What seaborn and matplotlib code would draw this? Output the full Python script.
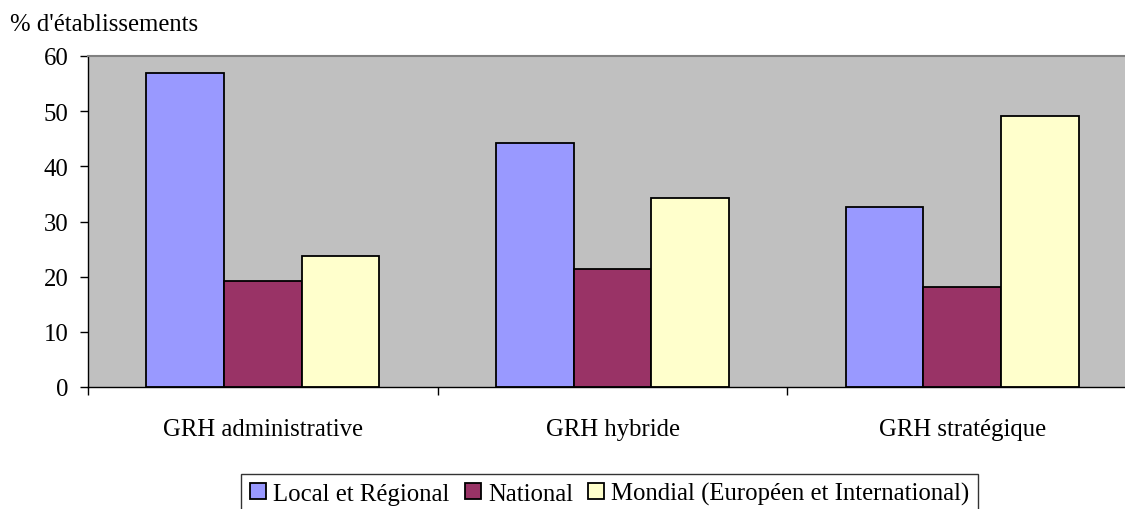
import matplotlib
matplotlib.use("Agg")
import matplotlib.pyplot as plt
import seaborn as sns
import pandas as pd
from matplotlib.ticker import FixedLocator, NullFormatter

categories = ["GRH administrative", "GRH hybride", "GRH stratégique"]
series_names = ["Local et Régional", "National", "Mondial (Européen et International)"]
local_regional = [56.9, 44.2, 32.6]
national = [19.3, 21.4, 18.1]
mondial = [23.8, 34.3, 49.1]
y_ticks = [0, 10, 20, 30, 40, 50, 60]
y_label = "% d'établissements"

colors = ["#9999FF", "#993366", "#FFFFCC"]

rows = []
for name, vals in zip(series_names, [local_regional, national, mondial]):
    for c, v in zip(categories, vals):
        rows.append({"cat": c, "serie": name, "val": v})
df = pd.DataFrame(rows)

plt.rcParams["font.family"] = ["Liberation Serif", "DejaVu Serif"]
FS = 17.8

fig = plt.figure(figsize=(11.25, 5.1), dpi=100)
ax = fig.add_axes([88 / 1125, (510 - 388) / 510, 1049 / 1125, 331 / 510])
ax.set_facecolor("#C0C0C0")

sns.barplot(data=df, x="cat", y="val", hue="serie", order=categories,
            hue_order=series_names, palette=colors, width=2 / 3,
            saturation=1, edgecolor="black", linewidth=1.3, ax=ax,
            legend=True)

ax.set_xlim(-0.5, 2.5)
ax.set_ylim(0, 60)
ax.set_yticks(y_ticks)
ax.set_yticklabels([str(t) for t in y_ticks], fontsize=FS)
ax.tick_params(axis="y", direction="out", length=6, width=1, color="black", pad=8)

ax.set_xticks(range(len(categories)))
ax.set_xticklabels(categories, fontsize=FS)
ax.tick_params(axis="x", which="major", length=0, pad=22)
ax.xaxis.set_minor_locator(FixedLocator([-0.5, 0.5, 1.5, 2.5]))
ax.xaxis.set_minor_formatter(NullFormatter())
ax.tick_params(axis="x", which="minor", direction="out", length=6, width=1, color="black")

ax.set_xlabel("")
ax.set_ylabel("")
for s in ["left", "bottom"]:
    ax.spines[s].set_color("black")
    ax.spines[s].set_linewidth(1)
ax.spines["top"].set_color("#808080")
ax.spines["top"].set_linewidth(1.5)
ax.spines["right"].set_visible(False)

handles, labels = ax.get_legend_handles_labels()
ax.get_legend().remove()
leg = fig.legend(handles, labels, loc="center", bbox_to_anchor=(0.542, 0.030),
                 ncol=3, fontsize=FS, frameon=True, fancybox=False,
                 edgecolor="black", handlelength=0.65, handleheight=0.65,
                 handletextpad=0.3, columnspacing=0.6, borderpad=0.35,
                 borderaxespad=0)
leg.get_frame().set_linewidth(1)

fig.text(10 / 1125, 1 - 25 / 510, y_label, fontsize=FS, ha="left", va="center")

fig.savefig("out.png", dpi=100)
